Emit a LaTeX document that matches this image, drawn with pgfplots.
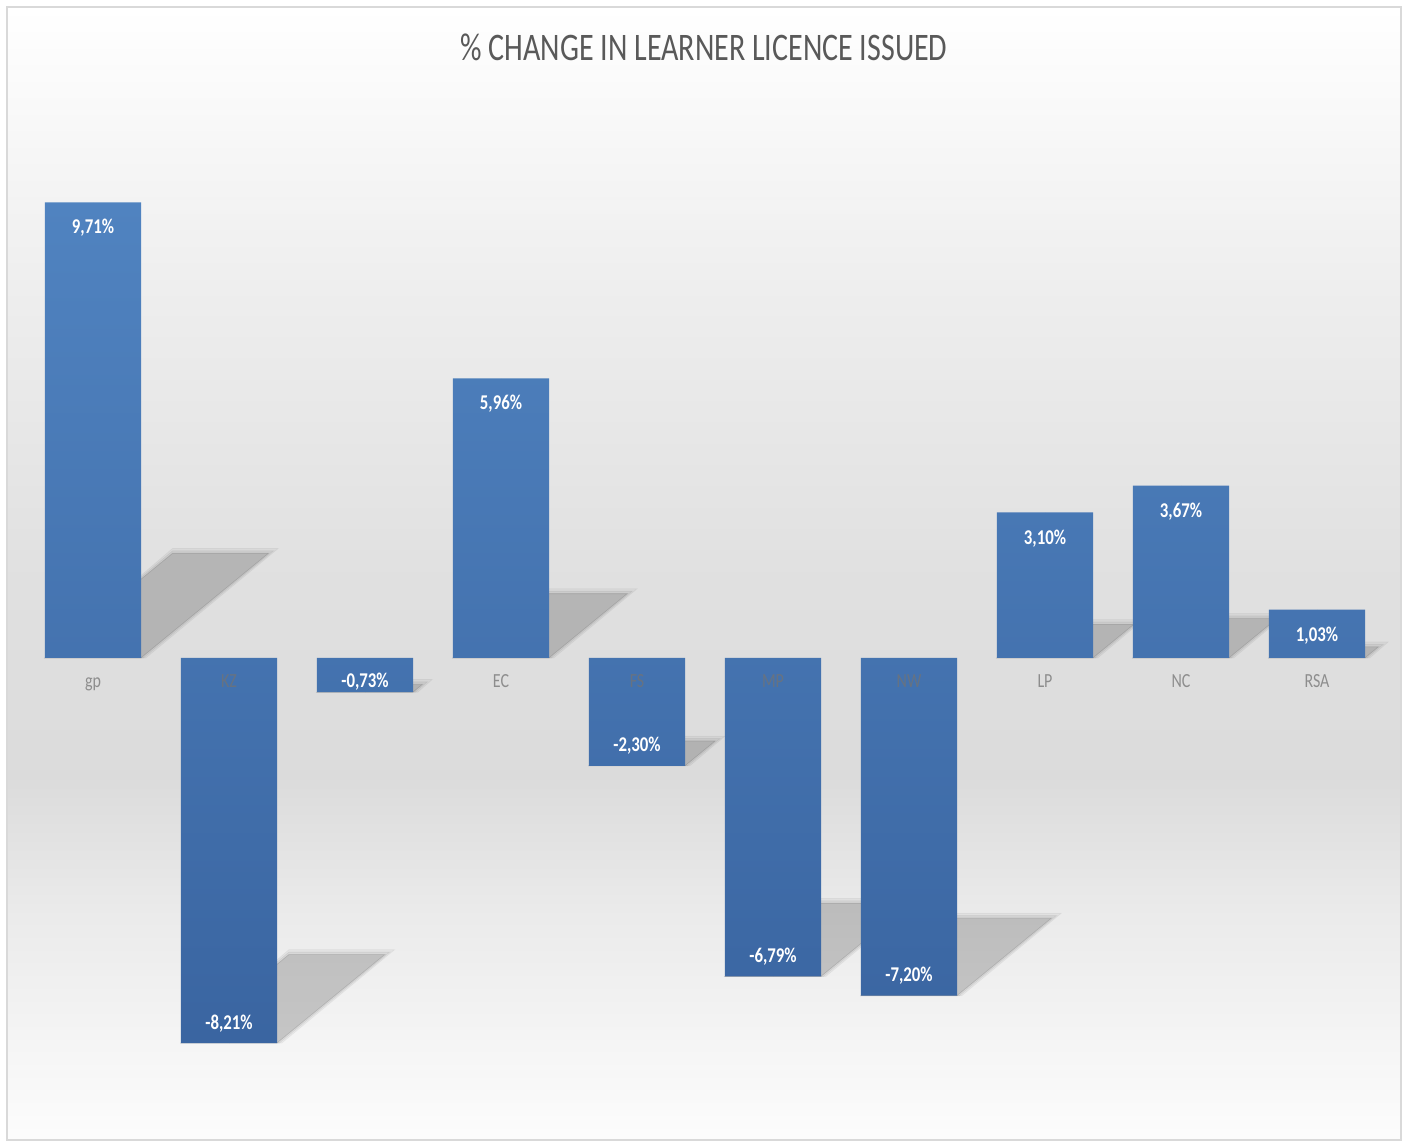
\documentclass[border=0pt]{standalone}
\usepackage{fontspec}
\setmainfont{Carlito}
\usepackage{graphicx}
\usepackage{pgfplots}
\pgfplotsset{compat=1.18}
\usepackage{pgfplotstable}

\definecolor{barTop}{RGB}{80,131,192}
\definecolor{barBot}{RGB}{58,101,161}
\definecolor{titleGray}{RGB}{89,89,89}
\definecolor{tickGray}{RGB}{115,115,115}
\definecolor{frameGray}{RGB}{217,217,217}

% page background: white at top, grey band low in the middle, white at bottom
\pgfdeclareverticalshading{chartbg}{100bp}{%
  color(0bp)=(white); color(25bp)=(black!1); color(35bp)=(black!8);
  color(41bp)=(black!14); color(50bp)=(black!12); color(62bp)=(black!7);
  color(75bp)=(white); color(100bp)=(white)}

\newcommand\sx[1]{\scalebox{0.8}[1]{#1}}

% one soft slanted shadow, #1 = grow to the right and top (pt), #2 = opacity
\newcommand\shadowpiece[2]{%
  \fill[black, opacity=#2] (-24pt,\sB pt) -- ({24pt+#1},\sB pt)
    -- ++({6.57*\sL pt+#1},{5.39*\sL pt+#1}) -- ++({-48pt-2*#1},0pt) -- cycle;}

% x = position, y = % change
\pgfplotstableread{
x  y
0  9.71
1  -8.21
2  -0.73
3  5.96
4  -2.30
5  -6.79
6  -7.20
7  3.10
8  3.67
9  1.03
}\changedata

\pgfplotsset{chartbox/.style={
  at={(12.5pt,8pt)}, anchor=south west,
  scale only axis, width=680pt, height=516pt,
  xmin=-0.5, xmax=9.5, ymin=-10, ymax=12, clip=false}}

\begin{document}
\begin{tikzpicture}
\useasboundingbox (0,0) rectangle (703.5pt,571.5pt);
\fill[white] (0,0) rectangle (703.5pt,571.5pt);
\path[shading=chartbg, draw=frameGray, line width=1pt] (3.5pt,1.5pt) rectangle (700.5pt,568pt);

\node[text=titleGray] at (352pt,547.75pt)
  {\scalebox{0.77}[1]{\fontsize{19.5}{23}\selectfont \% CHANGE IN LEARNER LICENCE ISSUED}};

% slanted shadows, in their own axis so that the bars cover them
\begin{axis}[chartbox, hide axis]
\addplot[scatter, only marks, mark=*, mark size=0pt,
  mark options={draw=none, fill=none},
  visualization depends on={rawy \as \ry},
  scatter/@pre marker code/.code={%
    \pgfmathsetmacro\sL{abs(\ry)}%
    \pgfmathsetmacro\sB{(\ry>0)*(-\ry)*23.4545}%
    \shadowpiece{2.4pt}{0.04}%
    \shadowpiece{1.2pt}{0.05}%
    \shadowpiece{0pt}{0.11}%
  },
  scatter/@post marker code/.code={},
] table[x=x, y=y] {\changedata};
\end{axis}

\begin{axis}[chartbox,
  axis x line=middle, axis y line=none,
  x axis line style={draw=none},
  hide obscured x ticks=false,
  xtick=data,
  xticklabels={\sx{gp},\sx{KZ},{},\sx{EC},\sx{FS},\sx{MP},\sx{NW},\sx{LP},\sx{NC},\sx{RSA}},
  major tick length=0pt,
  xticklabel style={anchor=base, yshift=-15pt, text=tickGray, text opacity=0.75,
    font=\fontsize{10}{12}\selectfont},
  axis on top,
  /pgf/number format/assume math mode=true,
]
\addplot[ybar, bar width=0.706, bar shift=0pt, draw=none,
  top color=barTop, bottom color=barBot,
  visualization depends on={rawy \as \ry},
  nodes near coords={\sx{\pgfmathprintnumber[fixed,fixed zerofill,precision=2,use comma]{\pgfplotspointmeta}\%}},
  nodes near coords style={
    /utils/exec={\ifdim\ry pt<0pt
        \def\anc{base}\ifdim\ry pt>-1pt \def\ys{2.5pt}\else\def\ys{7pt}\fi
      \else\def\anc{north}\def\ys{-5pt}\fi},
    anchor=\anc, yshift=\ys, text=white,
    font=\bfseries\fontsize{10.5}{12}\selectfont},
] table[x=x, y=y] {\changedata};
\end{axis}
\end{tikzpicture}
\end{document}
